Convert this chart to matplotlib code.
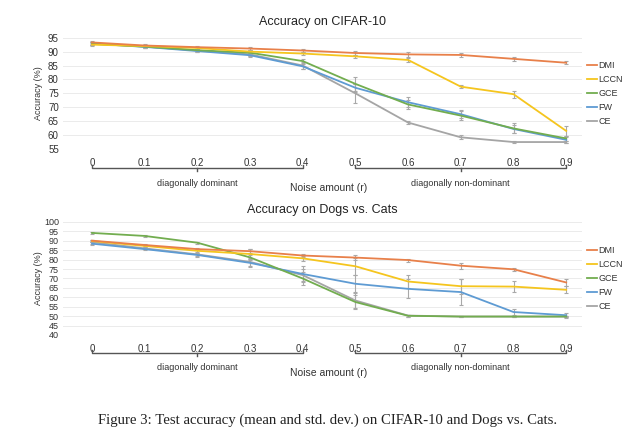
import matplotlib
matplotlib.use('Agg')
import matplotlib.pyplot as plt
import matplotlib.transforms as mtransforms

plt.rcParams['font.family'] = ['Liberation Sans', 'DejaVu Sans']

noise = [0, 0.1, 0.2, 0.3, 0.4, 0.5, 0.6, 0.7, 0.8, 0.9]
tick_labels = ['0', '0.1', '0.2', '0.3', '0.4', '0.5', '0.6', '0.7', '0.8', '0.9']
methods = ['DMI', 'LCCN', 'GCE', 'FW', 'CE']
colors = {'DMI': '#e8804a', 'LCCN': '#f5c51e', 'GCE': '#72ad4f', 'FW': '#5e9bd3', 'CE': '#a5a5a5'}

# CIFAR-10 (mean, std)
cifar_mean = {
    'DMI':  [93.3, 92.2, 91.6, 91.1, 90.4, 89.5, 89.0, 88.8, 87.4, 86.0],
    'LCCN': [92.5, 92.0, 91.3, 90.0, 89.3, 88.3, 87.0, 77.4, 74.7, 61.5],
    'GCE':  [92.8, 91.8, 90.5, 89.6, 86.6, 78.4, 71.0, 67.0, 62.4, 58.8],
    'FW':   [92.9, 91.7, 90.2, 88.7, 84.7, 77.0, 71.8, 67.5, 62.2, 58.3],
    'CE':   [93.0, 91.8, 90.4, 89.0, 85.0, 75.0, 64.5, 59.2, 57.5, 57.5],
}
cifar_std = {
    'DMI':  [0.5, 0.5, 0.5, 0.5, 0.7, 0.6, 0.8, 0.6, 0.6, 0.5],
    'LCCN': [0.5, 0.4, 0.4, 0.6, 0.5, 0.6, 0.8, 0.6, 1.2, 1.8],
    'GCE':  [0.5, 0.4, 0.4, 1.0, 0.8, 2.5, 1.5, 1.5, 1.8, 1.0],
    'FW':   [0.4, 0.4, 0.4, 0.5, 1.0, 1.5, 1.8, 1.5, 1.5, 1.0],
    'CE':   [0.5, 0.4, 0.4, 0.5, 1.2, 3.5, 0.6, 0.7, 0.4, 0.4],
}

# Dogs vs. Cats (mean, std)
dogs_mean = {
    'DMI':  [90.1, 87.8, 85.6, 84.5, 82.2, 81.1, 79.8, 76.8, 74.9, 67.9],
    'LCCN': [89.9, 87.3, 84.7, 83.0, 80.7, 76.5, 68.4, 65.9, 65.7, 64.0],
    'GCE':  [94.2, 92.6, 89.0, 81.2, 70.0, 57.5, 50.2, 49.8, 49.8, 49.8],
    'FW':   [88.5, 85.6, 82.5, 78.3, 72.4, 67.2, 64.5, 62.8, 52.2, 50.5],
    'CE':   [89.3, 86.0, 82.8, 78.8, 71.8, 58.3, 50.3, 49.8, 49.8, 49.8],
}
dogs_std = {
    'DMI':  [0.6, 0.5, 0.6, 1.0, 1.0, 1.5, 0.8, 1.5, 0.8, 1.8],
    'LCCN': [0.6, 0.6, 0.8, 2.5, 1.5, 4.5, 3.5, 4.0, 3.0, 1.8],
    'GCE':  [0.4, 0.4, 0.6, 1.5, 3.5, 3.5, 0.5, 0.4, 0.4, 0.4],
    'FW':   [0.8, 0.6, 1.2, 2.3, 4.0, 4.5, 5.0, 7.0, 1.5, 1.3],
    'CE':   [0.8, 0.6, 1.0, 2.0, 3.0, 4.0, 0.5, 0.4, 0.4, 0.4],
}

W, H = 640, 446
fig = plt.figure(figsize=(6.4, 4.46), dpi=100)


def px_axes(left, top, right, bottom):
    return fig.add_axes([left / W, 1 - bottom / H, (right - left) / W, (bottom - top) / H])


def draw(ax, means, stds, title, ylim, yticks, ysize, title_y, brk_y, lab_y, noise_y):
    for m in reversed(methods):
        ax.errorbar(noise, means[m], yerr=stds[m], color=colors[m], lw=1.3,
                    ecolor='#a9a9a9', elinewidth=0.8, capsize=1.3, capthick=0.8)
    ax.set_xlim(-0.055, 0.93)
    ax.set_ylim(*ylim)
    ax.set_yticks(yticks)
    ax.set_xticks(noise)
    ax.set_xticklabels(tick_labels)
    ax.tick_params(length=0, labelsize=7, colors='#333333')
    ax.tick_params(axis='y', labelsize=ysize, pad=3)
    ax.tick_params(axis='x', pad=6.5)
    for s in ax.spines.values():
        s.set_visible(False)
    ax.grid(axis='y', color='#ebebeb', lw=0.7)
    ax.set_axisbelow(True)
    ax.set_ylabel('Accuracy (%)', fontsize=6.5, color='#333333')
    ax.yaxis.set_label_coords(-(63 - 43) / (582 - 63), 0.5)
    fig.text(0.504, 1 - title_y / H, title, ha='center', va='center', fontsize=9, color='#222222')

    tr = mtransforms.blended_transform_factory(ax.transData, fig.transFigure)
    yb = 1 - brk_y / H
    d = 3 / H
    for a, b, mid in [(0, 0.4, 0.2), (0.5, 0.9, 0.7)]:
        ax.plot([a, a, b, b], [yb + d, yb, yb, yb + d], transform=tr, color='#555555',
                lw=1.0, clip_on=False)
        ax.plot([mid, mid], [yb, yb - d], transform=tr, color='#555555', lw=1.0, clip_on=False)
    ax.text(0.2, 1 - lab_y / H, 'diagonally dominant', transform=tr, ha='center', va='center',
            fontsize=6.5, color='#333333')
    ax.text(0.7, 1 - lab_y / H, 'diagonally non-dominant', transform=tr, ha='center', va='center',
            fontsize=6.5, color='#333333')
    ax.text(0.45, 1 - noise_y / H, 'Noise amount (r)', transform=tr, ha='center', va='center',
            fontsize=7.5, color='#333333')

    handles = [plt.Line2D([], [], color=colors[m], lw=1.3) for m in methods]
    ax.legend(handles, methods, loc='center left', bbox_to_anchor=(1.0, 0.5), frameon=False,
              fontsize=6.5, handlelength=1.1, handletextpad=0.1, labelspacing=0.55,
              borderaxespad=0.2, labelcolor='#333333')


ax1 = px_axes(63, 37.7, 582, 149)
draw(ax1, cifar_mean, cifar_std, 'Accuracy on CIFAR-10', (55, 95), range(55, 96, 5), 7,
     22, 168, 183, 188)

ax2 = px_axes(63, 222, 582, 335)
draw(ax2, dogs_mean, dogs_std, 'Accuracy on Dogs vs. Cats', (40, 100), range(40, 101, 5), 6.5,
     210, 353, 368, 373)

fig.text(328 / W, 1 - 420 / H,
         'Figure 3: Test accuracy (mean and std. dev.) on CIFAR-10 and Dogs vs. Cats.',
         ha='center', va='center', fontsize=10.6, family=['Liberation Serif', 'DejaVu Serif'],
         color='#222222')

fig.savefig('out.png', dpi=100)
